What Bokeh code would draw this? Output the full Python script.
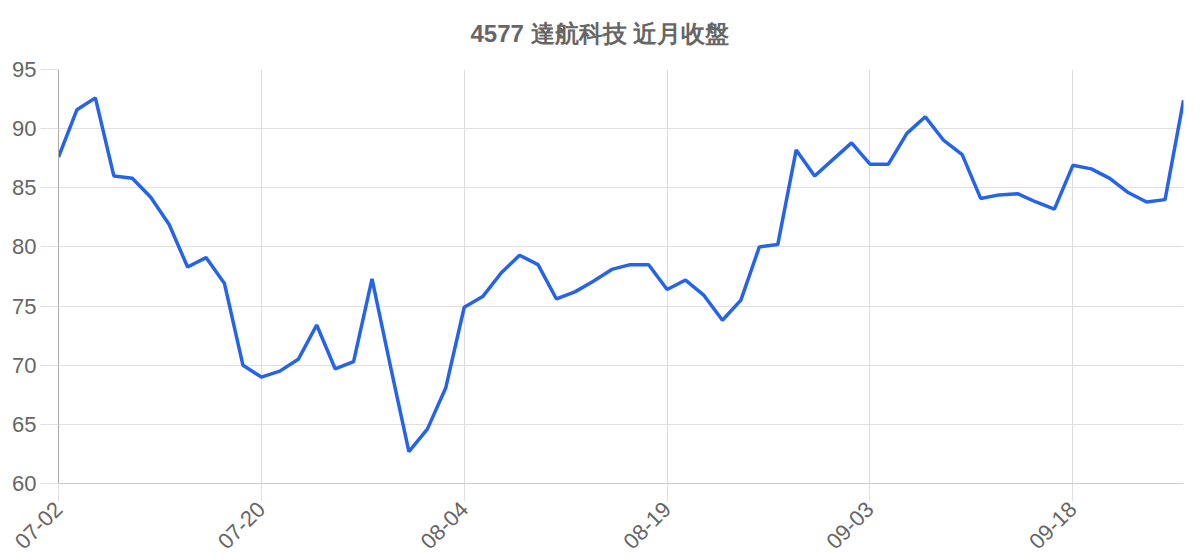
import math
from bokeh.plotting import figure
from bokeh.models import ColumnDataSource, Range1d, FixedTicker, Title
from bokeh.embed import file_html
from bokeh.resources import INLINE

title_text = "4577 達航科技 近月收盤"

dates = [
    "07-02", "07-03", "07-04", "07-07", "07-08", "07-09", "07-10", "07-14",
    "07-15", "07-16", "07-17", "07-20", "07-21", "07-22", "07-23", "07-24",
    "07-25", "07-28", "07-29", "07-30", "07-31", "08-01", "08-04", "08-05",
    "08-06", "08-07", "08-08", "08-11", "08-12", "08-13", "08-14", "08-15",
    "08-18", "08-19", "08-20", "08-21", "08-22", "08-25", "08-26", "08-27",
    "08-28", "08-29", "09-01", "09-02", "09-03", "09-04", "09-05", "09-08",
    "09-09", "09-10", "09-11", "09-12", "09-15", "09-16", "09-17", "09-18",
    "09-19", "09-22", "09-23", "09-24", "09-25", "09-26",
]

close = [
    87.6, 91.6, 92.6, 86.0, 85.8, 84.2, 81.9, 78.3, 79.1, 76.9,
    70.0, 69.0, 69.5, 70.5, 73.4, 69.7, 70.3, 77.3, 69.9, 62.7,
    64.6, 68.1, 74.9, 75.8, 77.8, 79.3, 78.5, 75.6, 76.2, 77.1,
    78.1, 78.5, 78.5, 76.4, 77.2, 75.9, 73.8, 75.5, 80.0, 80.2,
    88.2, 86.0, 87.4, 88.8, 87.0, 87.0, 89.6, 91.0, 89.0, 87.8,
    84.1, 84.4, 84.5, 83.8, 83.2, 86.9, 86.6, 85.8, 84.6, 83.8,
    84.0, 92.4,
]

y_min, y_max, y_step = 60, 95, 5
label_every = 11

idx = list(range(len(dates)))
src = ColumnDataSource(data=dict(x=idx, y=close, d=dates))

p = figure(
    width=1192, height=558,
    output_backend="svg", toolbar_location=None,
    x_range=Range1d(0, len(dates) - 1),
    y_range=Range1d(y_min, y_max),
    min_border_left=58, min_border_right=9,
    min_border_top=69, min_border_bottom=68,
)
p.outline_line_color = None
p.background_fill_color = "white"
p.border_fill_color = "white"

p.title.text = title_text
p.title.align = "left"
p.title.offset = 412
p.title.text_font = "Liberation Sans"
p.title.text_font_size = "24px"
p.title.text_font_style = "bold"
p.title.text_color = "#666666"

# empty spacer between the title and the plot frame
p.add_layout(Title(text=" ", text_font_size="6px"), "above")

p.line("x", "y", source=src, line_color="#2563eb", line_width=3.5)

xticks = idx[::label_every]
p.xaxis.ticker = FixedTicker(ticks=xticks)
p.xaxis.major_label_overrides = {i: dates[i] for i in xticks}
p.xaxis.major_label_orientation = math.pi / 4
p.yaxis.ticker = FixedTicker(ticks=list(range(y_min, y_max + 1, y_step)))

for ax in (p.xaxis, p.yaxis):
    ax.major_label_text_font = "Liberation Sans"
    ax.major_label_text_color = "#666666"
    ax.major_tick_in = 0
    ax.major_tick_out = 18
    ax.major_tick_line_color = "#e0e0e0"
    ax.minor_tick_line_color = None
    ax.major_label_standoff = 4

p.yaxis.major_label_text_font_size = "22px"
p.xaxis.major_label_text_font_size = "22px"
p.yaxis.axis_line_color = "#aaaaaa"
p.xaxis.axis_line_color = "#cccccc"

p.xgrid.grid_line_color = "#dcdcdc"
p.ygrid.grid_line_color = "#e0e0e0"
p.xgrid.ticker = FixedTicker(ticks=xticks)

open("out.html", "w").write(file_html(p, INLINE))
